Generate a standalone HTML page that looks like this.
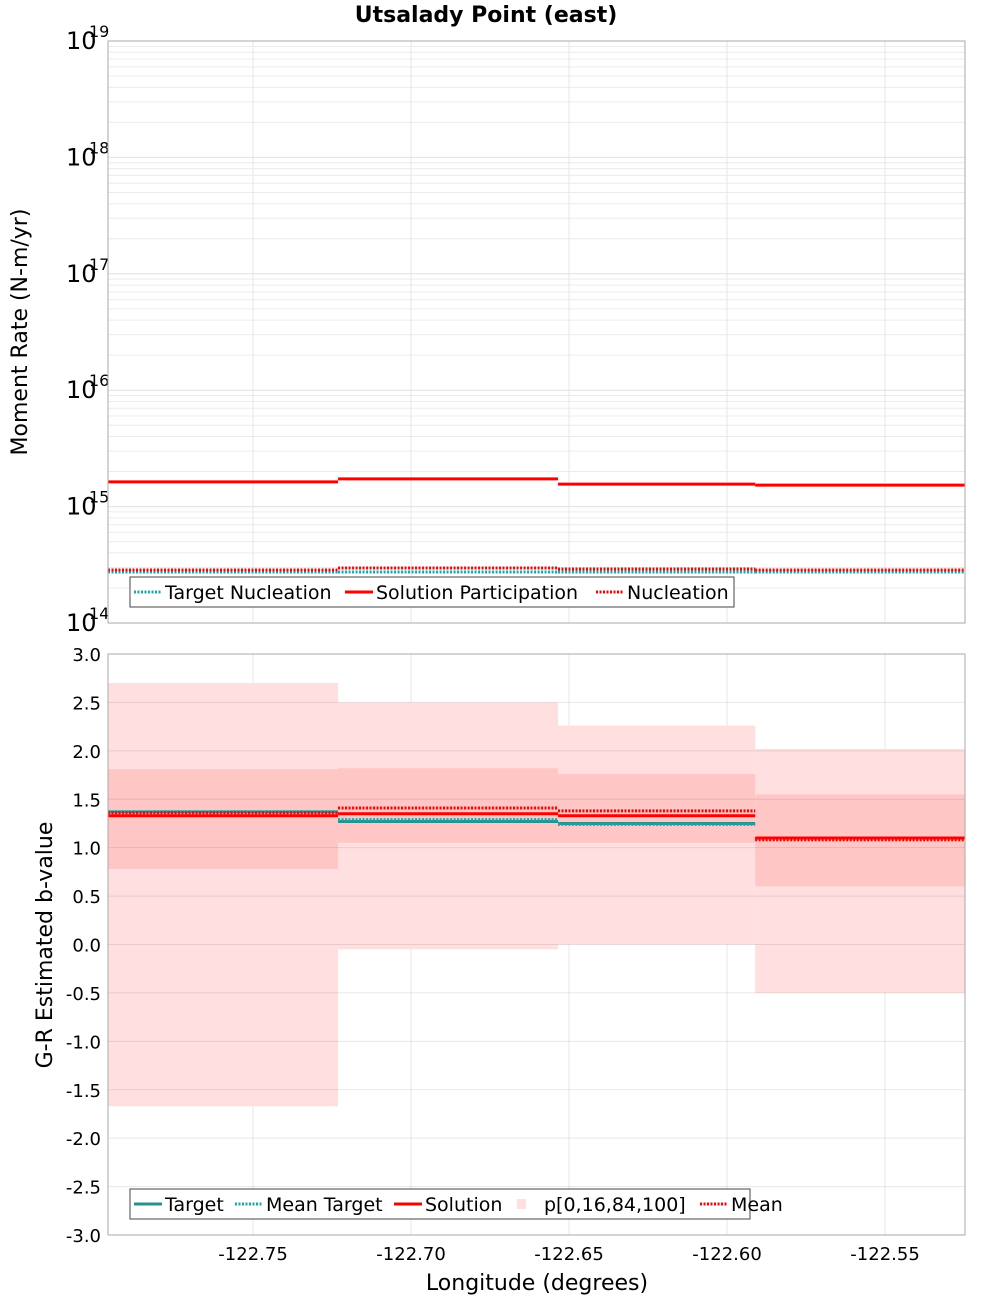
<!DOCTYPE html>
<html><head><meta charset="utf-8"><style>
body{margin:0;background:#fff;}
svg{display:block;font-family:"DejaVu Sans","Liberation Sans",sans-serif;}
</style></head><body>
<svg id="c" width="1000" height="1300" viewBox="0 0 1000 1300">
<text x="486" y="22" text-anchor="middle" font-weight="bold" font-size="22">Utsalady Point (east)</text>
<g id="topPanel"></g>
<g id="botPanel"></g>
<text x="27" y="332" transform="rotate(-90 27 332)" text-anchor="middle" font-size="22">Moment Rate (N-m/yr)</text>
<text x="52" y="945" transform="rotate(-90 52 945)" text-anchor="middle" font-size="22">G-R Estimated b-value</text>
<text x="537" y="1290" text-anchor="middle" font-size="22">Longitude (degrees)</text>
</svg>
<script>
const binEdges=[-122.7959,-122.7231,-122.6535,-122.5911,-122.5247];
const solPart=[1.63e15,1.73e15,1.56e15,1.53e15];
const nucleation=[2.85e14,2.97e14,2.91e14,2.85e14];
const targetNuc=[2.74e14,2.74e14,2.74e14,2.74e14];
const bMin=[-1.67,-0.05,0.0,-0.50];
const bP16=[0.78,1.05,1.05,0.60];
const bP84=[1.81,1.82,1.76,1.55];
const bMax=[2.70,2.50,2.26,2.02];
const bSolution=[1.33,1.35,1.33,1.10];
const bMean=[1.36,1.41,1.38,1.08];
const bTarget=[1.37,1.27,1.25,null];
const bMeanTarget=[1.37,1.29,1.24,null];
const xTicks=[-122.75,-122.70,-122.65,-122.60,-122.55];
const bTicks=[3.0,2.5,2.0,1.5,1.0,0.5,0.0,-0.5,-1.0,-1.5,-2.0,-2.5,-3.0];
const decades=[14,15,16,17,18,19];

const NS='http://www.w3.org/2000/svg';
const L=108,R=965,T1=41,B1=623,T2=654,B2=1235;
const X0=binEdges[0],X1=binEdges[4];
const xs=v=>L+(v-X0)/(X1-X0)*(R-L);
const ys1=v=>B1-(Math.log10(v)-14)/5*(B1-T1);
const ys2=v=>B2-(v+3)/6*(B2-T2);
function mk(p,tag,a){const e=document.createElementNS(NS,tag);for(const k in a)e.setAttribute(k,a[k]);p.appendChild(e);return e;}
const topG=document.getElementById('topPanel'),botG=document.getElementById('botPanel');

for(let d=14;d<19;d++)for(let m=1;m<10;m++){const y=ys1(m*Math.pow(10,d));
 const g=mk(topG,'line',{x1:L,x2:R,y1:y,y2:y,stroke:m==1?'#e0e0e0':'#ececec','stroke-width':1});
 
 }
xTicks.forEach(t=>{for(const [p,a,b] of [[topG,T1,B1],[botG,T2,B2]]){const g=mk(p,'line',{x1:xs(t),x2:xs(t),y1:a,y2:b,stroke:'#e6e6e6'});
 
 }});
decades.forEach(d=>{const y=ys1(Math.pow(10,d));
 const t=mk(topG,'text',{x:66,y:y+8,'font-size':24});t.textContent='10';
 
 
 const s=mk(topG,'text',{x:89,y:y-4,'font-size':16});s.textContent=String(d);
 
 });
function steps(p,arr,ys,attrs,name){for(let i=0;i<arr.length;i++){if(arr[i]==null)continue;const y=ys(arr[i]);
 const l=mk(p,'line',Object.assign({x1:xs(binEdges[i]),x2:xs(binEdges[i+1]),y1:y,y2:y},attrs));
 
 }}
steps(topG,targetNuc,ys1,{stroke:'#1aa9a9','stroke-width':3,'stroke-dasharray':'2 1.5'},'target-nucleation-line');
steps(topG,nucleation,ys1,{stroke:'#ff0000','stroke-width':3,'stroke-dasharray':'2 1.5'},'nucleation-line');
steps(topG,solPart,ys1,{stroke:'#ff0000','stroke-width':3},'solution-participation-line');
const f1=mk(topG,'rect',{x:L,y:T1,width:R-L,height:B1-T1,fill:'none',stroke:'#aaa'});



for(let i=0;i<4;i++){const x=xs(binEdges[i]),w=xs(binEdges[i+1])-x;
 const a=mk(botG,'rect',{x:x,y:ys2(bMax[i]),width:w,height:ys2(bMin[i])-ys2(bMax[i]),fill:'#ffdfdf'});
 
 
 const b=mk(botG,'rect',{x:x,y:ys2(bP84[i]),width:w,height:ys2(bP16[i])-ys2(bP84[i]),fill:'#ffc6c6'});
 
 }
bTicks.forEach(t=>{const y=ys2(t);const g=mk(botG,'line',{x1:L,x2:R,y1:y,y2:y,stroke:'rgba(0,0,0,0.09)'});
 
 
 const tx=mk(botG,'text',{x:101,y:y+7,'text-anchor':'end','font-size':18});tx.textContent=t.toFixed(1);
 
 });
xTicks.forEach(t=>{const tx=mk(botG,'text',{x:xs(t),y:1260,'text-anchor':'middle','font-size':18});tx.textContent=t.toFixed(2);
 
 });
steps(botG,bTarget,ys2,{stroke:'#2a8f8f','stroke-width':3},'target-line');
steps(botG,bMeanTarget,ys2,{stroke:'#1aa9a9','stroke-width':3,'stroke-dasharray':'2 1.5'},'mean-target-line');
steps(botG,bSolution,ys2,{stroke:'#ff0000','stroke-width':3},'solution-line');
steps(botG,bMean,ys2,{stroke:'#ff0000','stroke-width':3,'stroke-dasharray':'2 1.5'},'mean-line');
const f2=mk(botG,'rect',{x:L,y:T2,width:R-L,height:B2-T2,fill:'none',stroke:'#aaa'});



function legend(p,x,y,w,items,name){const g=mk(p,'g',{});
 
 
 mk(g,'rect',{x:x,y:y,width:w,height:30,fill:'#fff',stroke:'#444'});
 let cx=x+4;items.forEach(([lab,col,dash,sw,tw])=>{
  if(dash==='box'){mk(g,'rect',{x:cx+4,y:y+10,width:9,height:10,fill:'#ffdfdf'});}
  else mk(g,'line',{x1:cx,x2:cx+28,y1:y+15,y2:y+15,stroke:col,'stroke-width':3,'stroke-dasharray':dash||'none'});
  const t=mk(g,'text',{x:cx+31,y:y+22,'font-size':19});t.textContent=lab;
  
  
  cx+=31+tw+4;});}
legend(topG,130,577,604,[['Target Nucleation','#1aa9a9','2 1.5',3,176],['Solution Participation','#ff0000','',3,216],['Nucleation','#ff0000','2 1.5',3,108]],'top-legend');
legend(botG,130,1189,620,[['Target','#2a8f8f','',3,66],['Mean Target','#1aa9a9','2 1.5',3,124],['Solution','#ff0000','',3,84],['p[0,16,84,100]','','box',3,152],['Mean','#ff0000','2 1.5',3,54]],'bottom-legend');
</script>
</body></html>
